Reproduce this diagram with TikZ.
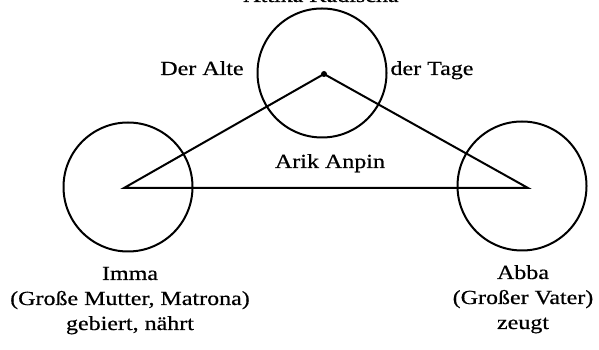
\documentclass[tikz,border=0pt]{standalone}
\usepackage{fontspec}
\setmainfont[FakeStretch=1.2, FakeBold=0.6]{Liberation Serif}
\usepackage{tikz}
\usetikzlibrary{calc}

\begin{document}
\begin{tikzpicture}[x=1pt, y=1pt, line width=2pt,
    ring/.style={draw, circle, minimum size=129pt, inner sep=0pt},
    schrift/.style={font=\fontsize{20}{25}\selectfont, align=center, anchor=base, inner sep=0pt}]
    \useasboundingbox (0,0) rectangle (599,350);
    
    % Kreise
    \node[ring] (atik) at (322,277) {};
    \node[ring] (imma) at (128,163) {};
    \node[ring] (abba) at (522,164) {};
    
    % Dreieck
    \coordinate (spitze) at (324,276);
    \coordinate (links) at (124,162);
    \coordinate (rechts) at (528,162);
    \draw (links) -- (spitze) -- (rechts) -- cycle;
    \fill (spitze) circle (3);
    
    % Beschriftung
    \node[schrift] (kopf) at (321,348) {Attika Kadischa};
    \node[schrift] (alte) at (202,275) {Der Alte};
    \node[schrift] (tage) at (432,275) {der Tage};
    \node[schrift] (arik) at (330,182) {Arik Anpin};
    \node[schrift] (mutter) at (130,20) {Imma\\(Große Mutter, Matrona)\\gebiert, nährt};
    \node[schrift] (vater) at (523,21) {Abba\\(Großer Vater)\\zeugt};
    
\end{tikzpicture}
\end{document}
